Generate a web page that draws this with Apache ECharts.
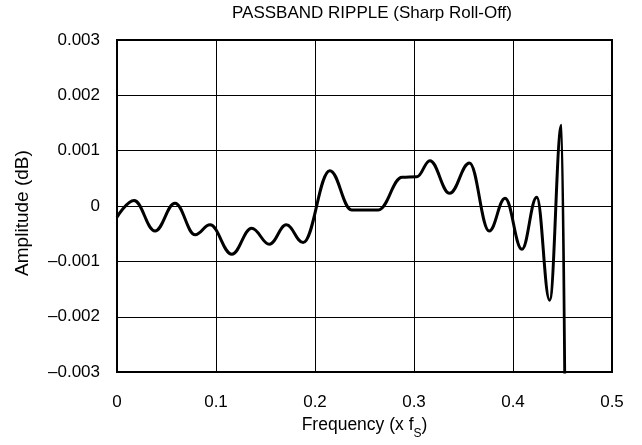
<!DOCTYPE html>
<html>
<head>
<meta charset="utf-8">
<script src="https://cdn.jsdelivr.net/npm/echarts@6/dist/echarts.min.js"></script>
<style>html,body{margin:0;padding:0;background:#fff;}#c{width:642px;height:445px;}</style>
</head>
<body>
<div id="c"></div>
<script>
var titleText = 'PASSBAND RIPPLE (Sharp Roll-Off)';
var xTicks = [0, 0.1, 0.2, 0.3, 0.4, 0.5];
var yTickLabels = {'-0.003':'\u20130.003','-0.002':'\u20130.002','-0.001':'\u20130.001','0':'0','0.001':'0.001','0.002':'0.002','0.003':'0.003'};
// local peaks / troughs of the ripple
var freq = [0, 0.0172, 0.0384, 0.0586, 0.079, 0.094, 0.116, 0.136, 0.154, 0.171, 0.188, 0.215, 0.237, 0.264, 0.288, 0.303, 0.316, 0.336, 0.356, 0.376, 0.392, 0.409, 0.424, 0.437, 0.449, 0.4555];
var amp = [-0.0002, 0.0001, -0.00045, 0.00005, -0.00052, -0.00034, -0.00087, -0.0004, -0.00069, -0.00034, -0.00066, 0.00064, -0.00007, -0.00007, 0.00052, 0.00053, 0.00082, 0.00023, 0.00078, -0.00045, 0.00014, -0.00078, 0.00016, -0.0017, 0.00146, -0.012];

var data = freq.map(function(f, i){ return [f, amp[i]]; });
var chart = echarts.init(document.getElementById('c'), null, {renderer:'canvas'});
var font = 'Liberation Sans, Arial, Helvetica, sans-serif';
chart.setOption({
  animation: false,
  backgroundColor: '#fff',
  title: {text: titleText, left: 372, top: 5, padding: 0, textAlign: 'center',
    textStyle: {fontFamily: font, fontSize: 17, fontWeight: 'normal', color: '#000'}},
  grid: {left: 117, right: 30, top: 40, bottom: 72, show: true, borderColor: '#000', borderWidth: 2, backgroundColor: 'transparent'},
  xAxis: {type: 'value', min: 0, max: 0.5, interval: 0.1,
    name: 'Frequency (x f{sub|S})', nameLocation: 'middle', nameGap: 41,
    nameTextStyle: {fontFamily: font, fontSize: 17.5, color: '#000',
      rich: {sub: {fontFamily: font, fontSize: 12, color: '#000', verticalAlign: 'bottom', padding: [0,0,-6,0]}}},
    axisLine: {show: false}, axisTick: {show: false},
    splitLine: {show: true, lineStyle: {color: '#000', width: 1}},
    axisLabel: {fontFamily: font, fontSize: 17, color: '#000', margin: 22,
      formatter: function(v){ var t = xTicks.filter(function(x){return Math.abs(x-v)<1e-9;}); return t.length ? String(t[0]) : ''; }}
  },
  yAxis: {type: 'value', min: -0.003, max: 0.003, interval: 0.001,
    name: 'Amplitude (dB)', nameLocation: 'middle', nameGap: 85,
    nameTextStyle: {fontFamily: font, fontSize: 19, color: '#000', padding: [0, 14, 0, 0]},
    axisLine: {show: false}, axisTick: {show: false},
    splitLine: {show: true, lineStyle: {color: '#000', width: 1}},
    axisLabel: {fontFamily: font, fontSize: 17, color: '#000', margin: 17,
      formatter: function(v){ var k = String(Math.round(v*1000)/1000); return yTickLabels[k] !== undefined ? yTickLabels[k] : k; }}
  },
  series: [{type: 'line', data: data, smooth: 0.4, smoothMonotone: 'x', showSymbol: false, clip: true,
    lineStyle: {color: '#000', width: 3}}]
});
</script>
</body>
</html>
